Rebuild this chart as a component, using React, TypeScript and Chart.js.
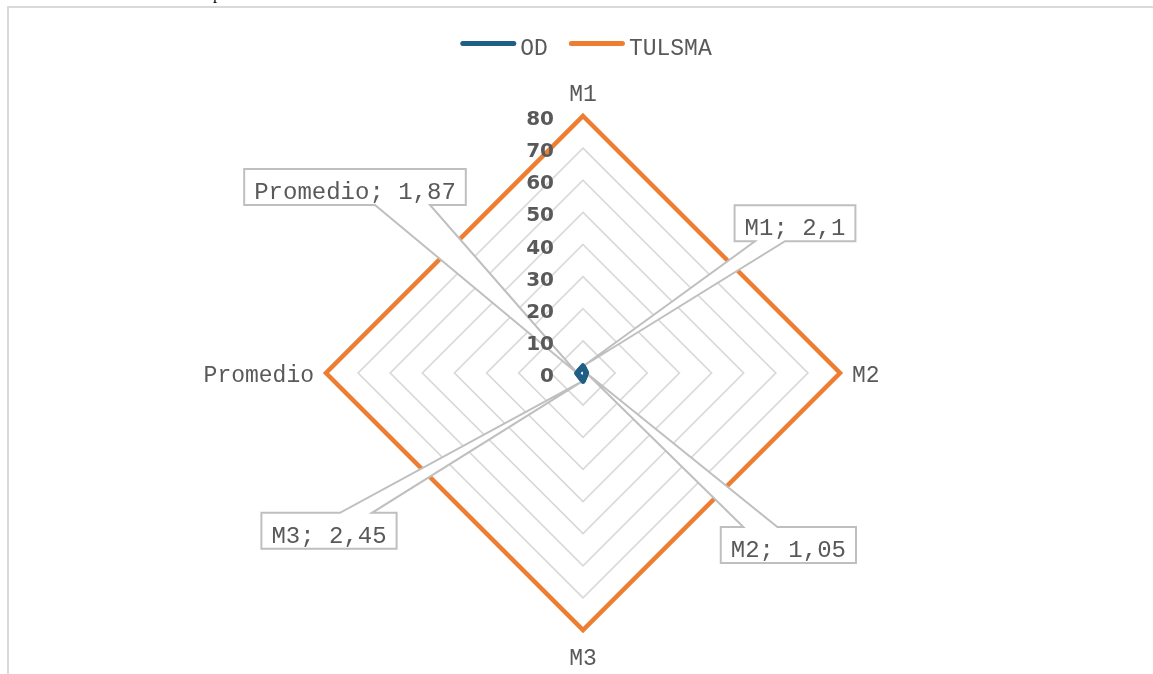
import React, { useEffect, useRef } from 'react';
import { Chart, registerables } from 'chart.js';

Chart.register(...registerables);

// ---- data ----
const categories = ['M1', 'M2', 'M3', 'Promedio'];
const seriesNames = ['OD', 'TULSMA'];
const odValues = [2.1, 1.05, 2.45, 1.87];
const tulsmaValues = [80, 80, 80, 80];
const axisMin = 0;
const axisMax = 80;
const axisStep = 10;

// ---- styles ----
const OD_COLOR = '#1f5f86';
const TULSMA_COLOR = '#ed7d31';
const TEXT_COLOR = '#595959';
const GRID_COLOR = '#d9d9d9';
const BOX_COLOR = '#bfbfbf';
const MONO = '"Liberation Mono", "Courier New", monospace';

// callout placement relative to each OD point (box centre offset, tail base offsets)
const CALLOUTS = [
  { dx: 212, dy: -143, side: 'bottom', t1: -40, t2: -10 },
  { dx: 202, dy: 172, side: 'top', t1: -45, t2: -11 },
  { dx: -254, dy: 150, side: 'top', t1: 11, t2: 43 },
  { dx: -222, dy: -186, side: 'bottom', t1: 20, t2: 75 },
];

const fmt = (v: number) => String(v).replace('.', ',');

const overlayPlugin = {
  id: 'overlay',
  afterDatasetsDraw(chart: any) {
    const ctx = chart.ctx;
    const scale = chart.scales.r;
    const meta = chart.getDatasetMeta(0);
    ctx.save();
    // callouts
    ctx.font = `24px ${MONO}`;
    meta.data.forEach((pt: any, i: number) => {
      const c = CALLOUTS[i];
      const text = `${categories[i]}; ${fmt(odValues[i])}`;
      const w = ctx.measureText(text).width + 20;
      const h = 36;
      const cx = pt.x + c.dx;
      const cy = pt.y + c.dy;
      const L = cx - w / 2, R = cx + w / 2, T = cy - h / 2, B = cy + h / 2;
      ctx.beginPath();
      if (c.side === 'bottom') {
        ctx.moveTo(L, T);
        ctx.lineTo(R, T);
        ctx.lineTo(R, B);
        ctx.lineTo(cx + c.t2, B);
        ctx.lineTo(pt.x, pt.y);
        ctx.lineTo(cx + c.t1, B);
        ctx.lineTo(L, B);
      } else {
        ctx.moveTo(L, T);
        ctx.lineTo(cx + c.t1, T);
        ctx.lineTo(pt.x, pt.y);
        ctx.lineTo(cx + c.t2, T);
        ctx.lineTo(R, T);
        ctx.lineTo(R, B);
        ctx.lineTo(L, B);
      }
      ctx.closePath();
      ctx.fillStyle = '#ffffff';
      ctx.fill();
      ctx.lineWidth = 2;
      ctx.lineJoin = 'miter';
      ctx.strokeStyle = BOX_COLOR;
      ctx.stroke();
      ctx.fillStyle = TEXT_COLOR;
      ctx.textAlign = 'center';
      ctx.textBaseline = 'alphabetic';
      ctx.fillText(text, cx, T + 30);
    });
    ctx.restore();
    // redraw OD series on top of the callout tips
    meta.controller.draw();

    // tick labels
    ctx.save();
    ctx.font = `bold 20px "DejaVu Sans", sans-serif`;
    ctx.fillStyle = TEXT_COLOR;
    ctx.textAlign = 'right';
    ctx.textBaseline = 'alphabetic';
    scale.ticks.forEach((t: any) => {
      const y = scale.yCenter - scale.getDistanceFromCenterForValue(t.value);
      ctx.fillText(String(t.value), scale.xCenter - 29, y + 9);
    });
    ctx.restore();
  },
  afterDraw(chart: any) {
    const ctx = chart.ctx;
    const scale = chart.scales.r;
    ctx.save();
    // point labels
    ctx.font = `23px ${MONO}`;
    ctx.fillStyle = TEXT_COLOR;
    ctx.textBaseline = 'alphabetic';
    categories.forEach((lab, i) => {
      const p = scale.getPointPosition(i, scale.drawingArea);
      const deg = ((Math.round((scale.getIndexAngle(i) * 180) / Math.PI) % 360) + 360) % 360;
      let x = p.x, y = p.y;
      let align: CanvasTextAlign = 'center';
      if (deg === 0) {
        y = p.y - 15;
      } else if (deg === 180) {
        y = p.y + 35;
      } else if (deg < 180) {
        align = 'left';
        x = p.x + 12;
        y = p.y + 9;
      } else {
        align = 'right';
        x = p.x - 12;
        y = p.y + 9;
      }
      ctx.textAlign = align;
      ctx.fillText(lab, x, y);
    });

    // legend
    const colors = [OD_COLOR, TULSMA_COLOR];
    ctx.font = `23px ${MONO}`;
    const swatch = 56;
    const gapText = 4;
    const gapItem = 21;
    const widths = seriesNames.map((n) => swatch + gapText + ctx.measureText(n).width);
    const total = widths.reduce((a, b) => a + b, 0) + gapItem * (seriesNames.length - 1);
    let x = scale.xCenter + 3 - total / 2;
    const lineY = 43.5;
    seriesNames.forEach((n, i) => {
      ctx.beginPath();
      ctx.lineCap = 'round';
      ctx.lineWidth = 5;
      ctx.strokeStyle = colors[i];
      ctx.moveTo(x + 2.5, lineY);
      ctx.lineTo(x + swatch - 2.5, lineY);
      ctx.stroke();
      ctx.fillStyle = TEXT_COLOR;
      ctx.textAlign = 'left';
      ctx.fillText(n, x + swatch + gapText, 55);
      x += widths[i] + gapItem;
    });
    ctx.restore();
  },
};

export default function App() {
  const canvasRef = useRef<HTMLCanvasElement | null>(null);

  useEffect(() => {
    if (!canvasRef.current) return;
    const chart = new Chart(canvasRef.current, {
      type: 'radar',
      data: {
        labels: categories,
        datasets: [
          {
            label: seriesNames[0],
            data: odValues,
            borderColor: OD_COLOR,
            backgroundColor: OD_COLOR,
            borderWidth: 5.5,
            pointRadius: 0,
            pointHoverRadius: 0,
            fill: false,
            borderJoinStyle: 'round',
          },
          {
            label: seriesNames[1],
            data: tulsmaValues,
            borderColor: TULSMA_COLOR,
            backgroundColor: TULSMA_COLOR,
            borderWidth: 4.5,
            pointRadius: 0,
            pointHoverRadius: 0,
            fill: false,
            borderJoinStyle: 'miter',
          },
        ],
      },
      options: {
        responsive: false,
        animation: false,
        devicePixelRatio: 1,
        layout: { padding: { left: 301, right: 288, top: 116, bottom: 44 } },
        plugins: { legend: { display: false }, tooltip: { enabled: false } },
        elements: { line: { tension: 0 } },
        scales: {
          r: {
            min: axisMin,
            max: axisMax,
            ticks: { stepSize: axisStep, display: false },
            grid: { color: GRID_COLOR, lineWidth: 1.75 },
            angleLines: { display: false },
            pointLabels: { display: false },
          },
        },
      },
      plugins: [overlayPlugin],
    } as any);
    return () => chart.destroy();
  }, []);

  return (
    <div style={{ position: 'fixed', left: 0, top: 0, width: 1153, height: 674, overflow: 'hidden', background: '#fff' }}>
      <span
        style={{
          position: 'absolute',
          left: 213,
          top: -14,
          fontFamily: '"Liberation Serif", serif',
          fontSize: 16,
          lineHeight: '16px',
          color: '#000',
        }}
      >
        p
      </span>
      <div
        style={{
          position: 'absolute',
          left: 7,
          top: 6,
          width: 1200,
          height: 720,
          border: '2px solid #d9d9d9',
        }}
      />
      <canvas ref={canvasRef} width={1153} height={674} style={{ position: 'absolute', left: 0, top: 0 }} />
    </div>
  );
}
